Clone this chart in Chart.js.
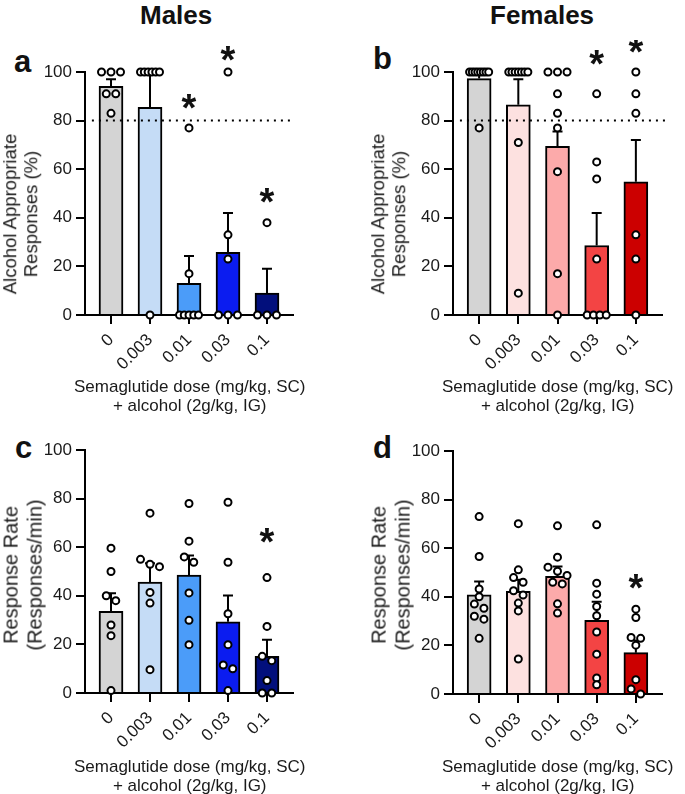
<!DOCTYPE html>
<html><head><meta charset="utf-8">
<script src="https://cdn.jsdelivr.net/npm/chart.js@4.4.0/dist/chart.umd.min.js"></script>
<style>
html,body{margin:0;padding:0;background:#fff;overflow:hidden;}
body{width:685px;height:794px;position:relative;font-family:"Liberation Sans",Arial,sans-serif;color:#1a1a1a;}
canvas{position:absolute;}
.t{position:absolute;white-space:nowrap;}
.title{font-weight:bold;font-size:26px;line-height:26px;color:#111;}
.letter{font-weight:bold;font-size:31px;line-height:31px;color:#111;}
.xt{position:absolute;white-space:nowrap;text-align:center;font-size:17px;line-height:19px;}
.yt{position:absolute;text-align:center;white-space:nowrap;transform:rotate(-90deg);transform-origin:center center;}
</style></head><body>
<div class="t title" id="tM">Males</div>
<div class="t title" id="tF">Females</div>
<div class="t letter" style="left:14px;top:46px;">a</div>
<div class="t letter" style="left:373px;top:43px;">b</div>
<div class="t letter" style="left:15px;top:432px;">c</div>
<div class="t letter" style="left:373px;top:432px;">d</div>
<canvas id="cA" width="340" height="376" style="left:0;top:40px;"></canvas>
<canvas id="cB" width="317" height="376" style="left:368px;top:40px;"></canvas>
<canvas id="cC" width="340" height="376" style="left:0;top:418px;"></canvas>
<canvas id="cD" width="317" height="376" style="left:368px;top:419px;"></canvas>
<script>
// ---------- data ----------
const doses = ['0', '0.003', '0.01', '0.03', '0.1'];
const maleColors = ['#d4d4d4', '#c5dcf6', '#4b9cf9', '#0b1cf0', '#020f7c'];
const femaleColors = ['#d4d4d4', '#fde1e0', '#fcaaaa', '#f34444', '#cc0000'];

// a: Males, alcohol appropriate responses (%)
const aMeans = [94.1, 85.5, 13.0, 25.8, 9.0];
const aSem = [2.9, 14.5, 11.3, 16.2, 10.0];
const aPoints = [
  [100, 100, 100, 91, 91, 83],
  [100, 100, 100, 100, 100, 100, 0],
  [77, 17, 0, 0, 0, 0, 0],
  [100, 33, 23, 0, 0, 0],
  [38, 0, 0, 0]
];
const aStars = [null, null, 87.8, 107.5, 49.2];

// b: Females, alcohol appropriate responses (%)
const bMeans = [97.3, 86.5, 69.4, 28.6, 54.8];
const bSem = [2.6, 10.5, 6.1, 13.4, 17.2];
const bPoints = [
  [100, 100, 100, 100, 100, 100, 100, 100, 77],
  [100, 100, 100, 100, 100, 100, 100, 71, 9],
  [100, 100, 100, 91, 83, 77, 59, 17, 0],
  [91, 63, 56, 23, 0, 0, 0, 0],
  [100, 91, 83, 33, 23, 0]
];
const bStars = [null, null, null, 106, 111];

// c: Males, response rate (responses/min)
const cMeans = [33.6, 45.6, 48.5, 29.3, 15.1];
const cSem = [7.4, 7.8, 8.1, 10.8, 6.8];
const cPoints = [
  [59.6, 50, 40, 38, 28, 23.6, 1],
  [74, 55, 53, 52, 41.4, 37, 9.6],
  [78, 62.5, 56, 53.8, 41.2, 29.9, 19.9],
  [78.5, 53.8, 32.6, 19.9, 11.5, 10, 1],
  [47.5, 27.4, 15.1, 13.3, 5.1, 0, 0]
];
const cStars = [null, null, null, null, 65];

// d: Females, response rate (responses/min)
const dMeans = [40.8, 42.2, 48.4, 30.3, 17.0];
const dSem = [5.5, 4.8, 4.1, 7.7, 5.0];
const dPoints = [
  [73, 56.6, 43.2, 40, 37, 35.3, 32, 30.8, 22.9],
  [70.1, 51.1, 47.9, 46, 42.5, 40.7, 37.4, 34.2, 14.4],
  [69.2, 56.3, 52.2, 50.5, 48.8, 46, 45.3, 37.1, 33.3],
  [69.6, 45.6, 41.1, 36, 32.2, 25.5, 16.4, 6.6, 3.8],
  [34.9, 31.5, 23.3, 22.9, 20.1, 5.9, 2.1, 0]
];
const dStars = [null, null, null, null, 46.2];

const criterion = 80;
const yTicks = [0, 20, 40, 60, 80, 100];
const xTitle = ['Semaglutide dose (mg/kg, SC)', '+ alcohol (2g/kg, IG)'];

// ---------- helpers ----------
const FAM = '"Liberation Sans", Arial, sans-serif';
const TXT = '#1a1a1a';
const PX_PER_Y = 2.43, PX_PER_X = 39;

function swarm(vals) {
  const idx = vals.map((v, i) => i).sort((p, q) => vals[q] - vals[p]);
  const off = new Array(vals.length).fill(0);
  let i = 0;
  while (i < idx.length) {
    let j = i + 1;
    while (j < idx.length && (vals[idx[j - 1]] - vals[idx[j]]) * PX_PER_Y < 5.5) j++;
    const n = j - i;
    const s = n > 1 ? Math.min(9.5, 19 / (n - 1)) : 0;
    for (let k = 0; k < n; k++) off[idx[i + k]] = (k - (n - 1) / 2) * s;
    i = j;
  }
  return off;
}

const annot = {
  id: 'annot',
  afterDatasetDraw(chart, args, opts) {
    if (args.index !== 0) return;
    const ctx = chart.ctx, xs = chart.scales.x, ys = chart.scales.y;
    ctx.save();
    ctx.strokeStyle = '#000'; ctx.lineWidth = 2; ctx.lineCap = 'butt';
    opts.means.forEach((m, i) => {
      const x = xs.getPixelForValue(i);
      const y0 = ys.getPixelForValue(m), y1 = ys.getPixelForValue(m + opts.sems[i]);
      ctx.beginPath(); ctx.moveTo(x, y0); ctx.lineTo(x, y1);
      ctx.moveTo(x - 5, y1); ctx.lineTo(x + 5, y1); ctx.stroke();
    });
    ctx.restore();
  },
  afterDatasetsDraw(chart, args, opts) {
    const ctx = chart.ctx, xs = chart.scales.x, ys = chart.scales.y;
    ctx.save();
    ctx.fillStyle = '#111';
    ctx.font = 'bold 38px ' + FAM;
    ctx.textAlign = 'center'; ctx.textBaseline = 'alphabetic';
    const m = ctx.measureText('*');
    const asc = m.actualBoundingBoxAscent, desc = m.actualBoundingBoxDescent;
    opts.stars.forEach((v, i) => {
      if (v === null) return;
      const x = xs.getPixelForValue(i), yc = ys.getPixelForValue(v);
      ctx.fillText('*', x, yc + (asc - desc) / 2);
    });
    ctx.restore();
  }
};

function makeChart(id, means, sems, points, stars, colors, withLine, rightPad, lineEnd) {
  const pts = [];
  points.forEach((vals, i) => {
    const off = swarm(vals);
    vals.forEach((v, k) => pts.push({x: i + off[k] / PX_PER_X, y: v}));
  });
  const datasets = [{
    type: 'bar',
    data: means.map((v, i) => ({x: i, y: v})),
    backgroundColor: colors,
    borderColor: '#000',
    borderWidth: 2,
    barThickness: 24,
    order: 3
  }];
  if (withLine) datasets.push({
    type: 'line',
    data: [{x: -0.49, y: criterion}, {x: lineEnd, y: criterion}],
    borderColor: '#000', borderWidth: 2, borderDash: [2, 5],
    pointRadius: 0, clip: false, order: 2
  });
  datasets.push({
    type: 'scatter',
    data: pts,
    pointRadius: 3.5, pointHoverRadius: 3.5,
    borderWidth: 2, borderColor: '#000', backgroundColor: '#fff',
    clip: false, order: 1
  });
  const gridOpts = {display: true, offset: false, drawOnChartArea: false, drawTicks: true, tickLength: 9, color: '#000', lineWidth: 2};
  new Chart(document.getElementById(id), {
    type: 'bar',
    data: {datasets},
    plugins: [annot],
    options: {
      responsive: false, animation: false, devicePixelRatio: 1,
      layout: {padding: {left: 0, right: rightPad, top: 32, bottom: 0}},
      plugins: {legend: {display: false}, tooltip: {enabled: false}, annot: {means, sems, stars}},
      scales: {
        x: {
          type: 'linear', min: -0.667, max: 4.667, offset: false,
          afterBuildTicks: s => { s.ticks = doses.map((d, i) => ({value: i})); },
          afterFit: s => { s.height = 101; s.paddingLeft = 0; s.paddingRight = 0; },
          ticks: {callback: v => doses[v], minRotation: 45, maxRotation: 45, autoSkip: false,
                  font: {size: 17, family: FAM}, color: TXT, padding: 6},
          grid: gridOpts,
          border: {display: true, color: '#000', width: 2},
          title: {display: false}
        },
        y: {
          min: 0, max: 100,
          afterBuildTicks: s => { s.ticks = yTicks.map(v => ({value: v})); },
          afterFit: s => { s.width = 85; },
          ticks: {font: {size: 17, family: FAM}, color: TXT, padding: 4},
          grid: gridOpts,
          border: {display: true, color: '#000', width: 2}
        }
      }
    }
  });
}

makeChart('cA', aMeans, aSem, aPoints, aStars, maleColors, true, 47, 4.64);
makeChart('cB', bMeans, bSem, bPoints, bStars, femaleColors, true, 23, 4.82);
makeChart('cC', cMeans, cSem, cPoints, cStars, maleColors, false, 47, 0);
makeChart('cD', dMeans, dSem, dPoints, dStars, femaleColors, false, 23, 0);

// ---------- HTML titles ----------
function place(el, cx, top) {
  el.style.top = top + 'px';
  el.style.left = (cx - el.offsetWidth / 2) + 'px';
}
place(document.getElementById('tM'), 176, 2);
place(document.getElementById('tF'), 542, 2);

function xTitleDiv(cx, top) {
  const d = document.createElement('div');
  d.className = 'xt';
  d.innerHTML = xTitle.map(s => '<div>' + s + '</div>').join('');
  document.body.appendChild(d);
  place(d, cx, top);
}
xTitleDiv(190, 377);
xTitleDiv(558, 377);
xTitleDiv(190, 757);
xTitleDiv(558, 757);

function yTitle(lines, cx, cy, size, lh) {
  const d = document.createElement('div');
  d.className = 'yt';
  d.style.fontSize = size + 'px';
  d.style.lineHeight = lh + 'px';
  d.innerHTML = lines.map(s => '<div>' + s + '</div>').join('');
  document.body.appendChild(d);
  const w = d.offsetWidth, h = d.offsetHeight;
  d.style.left = (cx - w / 2) + 'px';
  d.style.top = (cy - h / 2) + 'px';
}
yTitle(['Alcohol Appropriate', 'Responses (%)'], 19.5, 214, 18.5, 21);
yTitle(['Alcohol Appropriate', 'Responses (%)'], 387.5, 214, 18.5, 21);
yTitle(['Response Rate', '(Responses/min)'], 22.7, 575, 20, 24);
yTitle(['Response Rate', '(Responses/min)'], 390.7, 575, 20, 24);
</script>
</body></html>
